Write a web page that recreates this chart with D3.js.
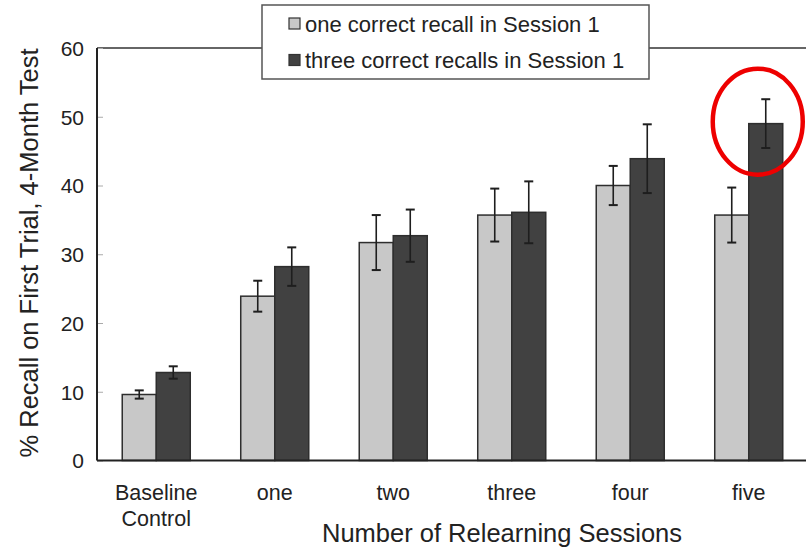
<!DOCTYPE html>
<html>
<head>
<meta charset="utf-8">
<script src="https://cdn.jsdelivr.net/npm/d3@7"></script>
<style>
    html, body { margin: 0; padding: 0; background: #fff; }
    svg { display: block; font-family: "Liberation Sans", Arial, sans-serif; }
</style>
</head>
<body>
<div class="chart"></div>
<script>
var categories = ['Baseline\nControl', 'one', 'two', 'three', 'four', 'five'];
var seriesNames = ['one correct recall in Session 1', 'three correct recalls in Session 1'];
var oneRecall = [9.6, 23.9, 31.7, 35.7, 40.0, 35.7];
var oneRecallErr = [0.6, 2.25, 4.0, 3.85, 2.85, 4.0];
var threeRecalls = [12.8, 28.2, 32.7, 36.1, 43.9, 49.0];
var threeRecallsErr = [0.9, 2.8, 3.8, 4.5, 5.0, 3.55];
var yTicks = [0, 10, 20, 30, 40, 50, 60];

(function () {
    "use strict";

    var config = {
        selector: '.chart',
        width: 806,
        height: 548,
        plot: { left: 97, right: 808, top: 48, bottom: 460.5 },
        colors: ['#c8c8c8', '#414141']
    };

    function drawGraph() {
        var p = config.plot;
        var svg = d3.select(config.selector).append('svg')
            .attr('width', config.width)
            .attr('height', config.height);

        var x0 = d3.scaleBand()
            .domain(categories)
            .range([p.left, p.right])
            .paddingInner(0.426)
            .paddingOuter(0.213);

        var x1 = d3.scaleBand()
            .domain([0, 1])
            .range([0, x0.bandwidth()]);

        var y = d3.scaleLinear()
            .domain([0, 60])
            .range([p.bottom, p.top]);

        // frame top line
        svg.append('line')
            .attr('x1', p.left).attr('x2', p.right)
            .attr('y1', p.top).attr('y2', p.top)
            .attr('stroke', '#333').attr('stroke-width', 1.5);

        var rows = categories.map(function (c, i) {
            return {
                cat: c,
                vals: [
                    { s: 0, v: oneRecall[i], e: oneRecallErr[i] },
                    { s: 1, v: threeRecalls[i], e: threeRecallsErr[i] }
                ]
            };
        });

        var groups = svg.append('g')
            .selectAll('g')
            .data(rows)
            .enter().append('g')
            .attr('transform', function (d) { return 'translate(' + x0(d.cat) + ',0)'; });

        var cells = groups.selectAll('g')
            .data(function (d) { return d.vals; })
            .enter().append('g');

        cells.append('rect')
            .attr('x', function (d) { return x1(d.s); })
            .attr('y', function (d) { return y(d.v); })
            .attr('width', x1.bandwidth())
            .attr('height', function (d) { return y(0) - y(d.v); })
            .attr('fill', function (d) { return config.colors[d.s]; })
            .attr('stroke', '#2e2e2e')
            .attr('stroke-width', 1.5);

        // error bars
        cells.append('line')
            .attr('x1', function (d) { return x1(d.s) + x1.bandwidth() / 2; })
            .attr('x2', function (d) { return x1(d.s) + x1.bandwidth() / 2; })
            .attr('y1', function (d) { return y(d.v + d.e); })
            .attr('y2', function (d) { return y(d.v - d.e); })
            .attr('stroke', '#1e1e1e').attr('stroke-width', 1.6);

        [1, -1].forEach(function (sign) {
            cells.append('line')
                .attr('x1', function (d) { return x1(d.s) + x1.bandwidth() / 2 - 4.5; })
                .attr('x2', function (d) { return x1(d.s) + x1.bandwidth() / 2 + 4.5; })
                .attr('y1', function (d) { return y(d.v + sign * d.e); })
                .attr('y2', function (d) { return y(d.v + sign * d.e); })
                .attr('stroke', '#1e1e1e').attr('stroke-width', 2);
        });

        // y axis
        var yAxis = svg.append('g')
            .attr('transform', 'translate(' + p.left + ',0)')
            .call(d3.axisRight(y).tickValues(yTicks).tickSize(6).tickFormat(''));
        yAxis.select('.domain').remove();
        yAxis.selectAll('.tick line').attr('stroke', '#aaa').attr('stroke-width', 1);

        svg.append('g')
            .attr('transform', 'translate(' + (p.left - 13) + ',0)')
            .call(d3.axisLeft(y).tickValues(yTicks).tickSize(0))
            .call(function (g) {
                g.select('.domain').remove();
                g.selectAll('text')
                    .attr('font-size', 21)
                    .attr('fill', '#222')
                    .attr('x', 0)
                    .attr('dy', '0.35em')
                    .attr('font-family', '"Liberation Sans", Arial, sans-serif');
            });

        svg.append('line')
            .attr('x1', p.left).attr('x2', p.left)
            .attr('y1', p.top).attr('y2', p.bottom)
            .attr('stroke', '#222').attr('stroke-width', 2);

        // x axis
        svg.append('line')
            .attr('x1', p.left).attr('x2', p.right)
            .attr('y1', p.bottom).attr('y2', p.bottom)
            .attr('stroke', '#222').attr('stroke-width', 2);

        var xLabels = svg.append('g')
            .selectAll('text')
            .data(categories)
            .enter().append('text')
            .attr('text-anchor', 'middle')
            .attr('font-size', 21.5)
            .attr('fill', '#222')
            .attr('transform', function (d) {
                return 'translate(' + (x0(d) + x0.bandwidth() / 2) + ',500)';
            });
        xLabels.selectAll('tspan')
            .data(function (d) { return d.split('\n'); })
            .enter().append('tspan')
            .attr('x', 0)
            .attr('dy', function (d, i) { return i ? 26 : 0; })
            .text(function (d) { return d; });

        // axis titles
        svg.append('text')
            .attr('x', 502).attr('y', 542)
            .attr('text-anchor', 'middle')
            .attr('font-size', 25.5)
            .attr('fill', '#222')
            .text('Number of Relearning Sessions');

        svg.append('text')
            .attr('transform', 'translate(38,253) rotate(-90)')
            .attr('text-anchor', 'middle')
            .attr('font-size', 25.5)
            .attr('fill', '#222')
            .text('% Recall on First Trial, 4-Month Test');

        // legend
        var legend = svg.append('g').attr('transform', 'translate(262,5)');
        legend.append('rect')
            .attr('width', 387).attr('height', 74)
            .attr('fill', '#fff')
            .attr('stroke', '#555').attr('stroke-width', 1.5);

        var items = legend.selectAll('g')
            .data(seriesNames)
            .enter().append('g')
            .attr('transform', function (d, i) { return 'translate(27,' + (13 + i * 36.5) + ')'; });

        items.append('rect')
            .attr('width', 11).attr('height', 11)
            .attr('fill', function (d, i) { return config.colors[i]; })
            .attr('stroke', '#333').attr('stroke-width', 1.2);

        items.append('text')
            .attr('x', 16).attr('y', 13.5)
            .attr('font-size', 22)
            .attr('fill', '#222')
            .text(function (d) { return d; });

        // red highlight around the last dark bar
        var last = categories.length - 1;
        svg.append('ellipse')
            .attr('cx', x0(categories[last]) + x1(1) + x1.bandwidth() / 2 - 8)
            .attr('cy', y(threeRecalls[last]) - 2)
            .attr('rx', 45)
            .attr('ry', 53)
            .attr('fill', 'none')
            .attr('stroke', '#ee0000')
            .attr('stroke-width', 4.5);
    }

    drawGraph();
})();
</script>
</body>
</html>
